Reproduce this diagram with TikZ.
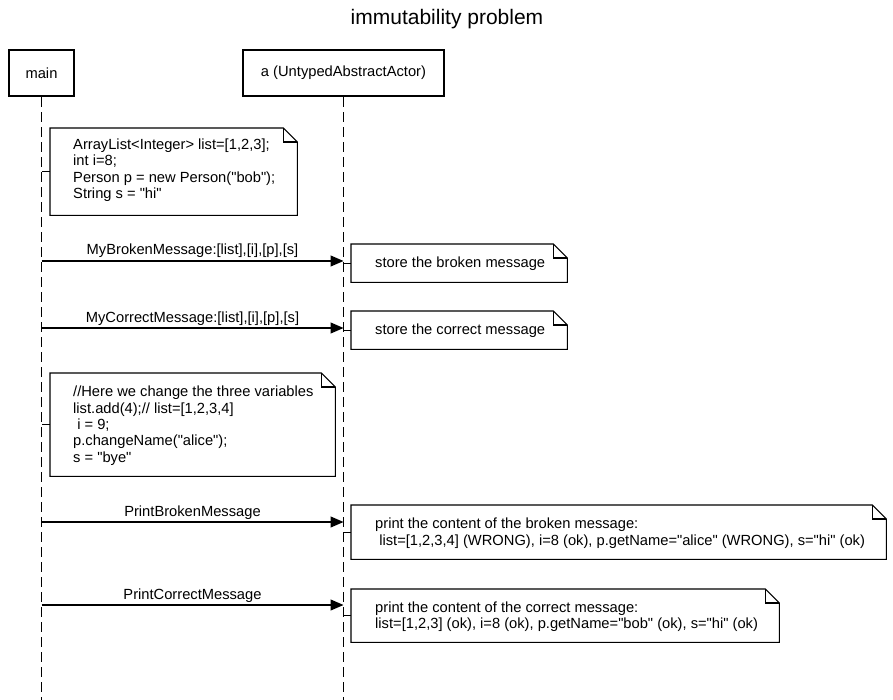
\documentclass[tikz,border=0pt]{standalone}
\usepackage{fontspec}
\setmainfont{Liberation Sans}[Ligatures=TeXOff]
\usetikzlibrary{arrows.meta}
\newcommand\drawnote[1]{%
  \draw[noteline] (#1.south west) -- (#1.north west) -- ([xshift=-14pt]#1.north east)
    -- ([yshift=-14pt]#1.north east) -- (#1.south east) -- cycle;
  \draw[noteline] ([xshift=-14pt]#1.north east) |- ([yshift=-14pt]#1.north east);}
\begin{document}
\begin{tikzpicture}[x=1pt,y=-1pt,
  base/.style={font=\fontsize{14.7}{16.4}\selectfont},
  participant/.style={draw, line width=2.2pt, minimum height=46pt, inner sep=0pt, base},
  lifeline/.style={line width=1.1pt, dash pattern=on 10pt off 5pt},
  msg/.style={line width=1.1pt, -{Triangle[length=13pt,width=11pt]}},
  lbl/.style={midway, anchor=base, yshift=6pt, inner sep=0pt, base},
  notebox/.style={anchor=north west, inner sep=0pt},
  notetext/.style={anchor=west, inner sep=0pt, align=left, base},
  noteline/.style={line width=1.1pt, line join=miter},
  link/.style={line width=1.1pt}]
\useasboundingbox (0,0) rectangle (893,700);
\node[font=\fontsize{21}{24}\selectfont] (title) at (447,19) {immutability problem};
\node[participant, minimum width=65pt] (main) at (41.5,73) {main};
\node[participant, minimum width=201pt] (a) at (343.5,73) {a (UntypedAbstractActor)};
\coordinate (mainbot) at (41.5,700);
\coordinate (abot) at (343.5,700);
\draw[lifeline] (main.south) -- (mainbot);
\draw[lifeline] (a.south) -- (abot);
% note 1
\node[notebox, minimum width=247pt, minimum height=87pt] (n1) at (50,128) {};
\node[notetext] (n1t) at ([xshift=23pt,yshift=1.5pt]n1.west)
  {ArrayList<Integer> list=[1,2,3];\\int i=8;\\Person p = new Person("bob");\\String s = "hi"};
\drawnote{n1}
\draw[link] (n1.west) -- (n1.west -| main.south);
% message 1
\coordinate (m1s) at (41.5,261);
\coordinate (m1e) at (343.5,261);
\draw[msg] (m1s) -- node[lbl] {MyBrokenMessage:[list],[i],[p],[s]} (m1e);
\node[notebox, minimum width=216pt, minimum height=38pt] (n2) at (351,244) {};
\node[notetext] (n2t) at ([xshift=24pt]n2.west) {store the broken message};
\drawnote{n2}
\draw[link] (n2.west) -- (n2.west -| a.south);
% message 2
\coordinate (m2s) at (41.5,328);
\coordinate (m2e) at (343.5,328);
\draw[msg] (m2s) -- node[lbl] {MyCorrectMessage:[list],[i],[p],[s]} (m2e);
\node[notebox, minimum width=216pt, minimum height=38pt] (n3) at (351,311) {};
\node[notetext] (n3t) at ([xshift=24pt]n3.west) {store the correct message};
\drawnote{n3}
\draw[link] (n3.west) -- (n3.west -| a.south);
% note 4
\node[notebox, minimum width=285pt, minimum height=103pt] (n4) at (50,373) {};
\node[notetext] (n4t) at ([xshift=23pt,yshift=-1pt]n4.west)
  {//Here we change the three variables\\list.add(4);// list=[1,2,3,4]\\\hspace*{0.28em}i = 9;\\p.changeName("alice");\\s = "bye"};
\drawnote{n4}
\draw[link] (n4.west) -- (n4.west -| main.south);
% message 3
\coordinate (m3s) at (41.5,522);
\coordinate (m3e) at (343.5,522);
\draw[msg] (m3s) -- node[lbl] {PrintBrokenMessage} (m3e);
\node[notebox, minimum width=535pt, minimum height=54pt] (n5) at (351,505) {};
\node[notetext] (n5t) at ([xshift=24pt,yshift=-1pt]n5.west)
  {print the content of the broken message:\\\hspace*{0.28em}list=[1,2,3,4] (WRONG), i=8 (ok), p.getName="alice" (WRONG), s="hi" (ok)};
\drawnote{n5}
\draw[link] (n5.west) -- (n5.west -| a.south);
% message 4
\coordinate (m4s) at (41.5,605);
\coordinate (m4e) at (343.5,605);
\draw[msg] (m4s) -- node[lbl] {PrintCorrectMessage} (m4e);
\node[notebox, minimum width=428pt, minimum height=53pt] (n6) at (351,589) {};
\node[notetext] (n6t) at ([xshift=24pt,yshift=-1pt]n6.west)
  {print the content of the correct message:\\list=[1,2,3] (ok), i=8 (ok), p.getName="bob" (ok), s="hi" (ok)};
\drawnote{n6}
\draw[link] (n6.west) -- (n6.west -| a.south);
\end{tikzpicture}
\end{document}
